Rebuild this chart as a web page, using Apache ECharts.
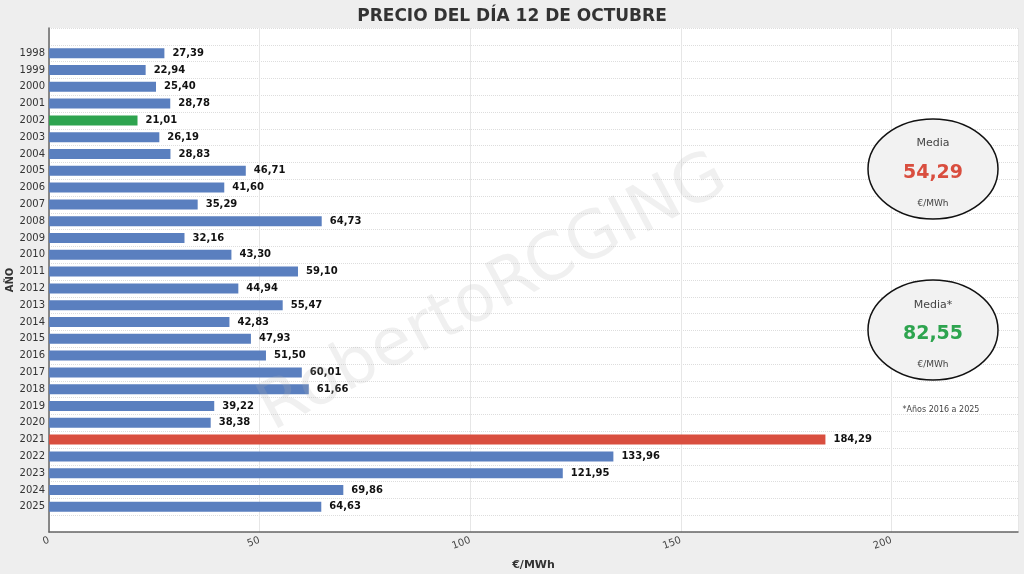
<!DOCTYPE html>
<html><head><meta charset="utf-8">
<script src="https://cdn.jsdelivr.net/npm/echarts@6/dist/echarts.min.js"></script>
<style>html,body{margin:0;padding:0;background:#eeeeee}#c{width:1024px;height:574px}</style>
</head><body><div id="c"></div>
<script>
const years = ['1998','1999','2000','2001','2002','2003','2004','2005','2006','2007','2008','2009','2010','2011','2012','2013','2014','2015','2016','2017','2018','2019','2020','2021','2022','2023','2024','2025'];
const prices = [27.39,22.94,25.40,28.78,21.01,26.19,28.83,46.71,41.60,35.29,64.73,32.16,43.30,59.10,44.94,55.47,42.83,47.93,51.50,60.01,61.66,39.22,38.38,184.29,133.96,121.95,69.86,64.63];
const minYear = '2002', maxYear = '2021';
const xTicks = [0,50,100,150,200];

const cats = [''].concat(years).concat(['']);
const vals = [null].concat(prices.map((v,i)=>({value:v,itemStyle:{color: years[i]===maxYear?'#d94e3f':(years[i]===minYear?'#2ea44f':'#5a7fbf')}}))).concat([null]);
const fmt = v => v.toFixed(2).replace('.',',');
const chart = echarts.init(document.getElementById('c'));
const ff = 'DejaVu Sans';
chart.setOption({
  backgroundColor:'#eeeeee',
  textStyle:{fontFamily:ff},
  title:{text:'PRECIO DEL DÍA 12 DE OCTUBRE',left:'center',top:3,textStyle:{fontSize:17,fontWeight:'bold',color:'#333',fontFamily:ff}},
  grid:{left:49,right:6,top:28,bottom:42,backgroundColor:'#fff',show:true,borderWidth:0,containLabel:false,outerBoundsMode:'none'},
  xAxis:{type:'value',min:0,max:230,interval:50,name:'€/MWh',nameLocation:'middle',nameGap:28,
    nameTextStyle:{fontWeight:'bold',fontSize:11,color:'#333'},
    axisLine:{show:true,lineStyle:{color:'#666',width:1.5}},axisTick:{show:false},
    axisLabel:{rotate:20,fontSize:10,color:'#444',formatter:v=>xTicks.includes(v)?String(v):''},
    splitLine:{lineStyle:{color:'#e6e6e6'}}},
  yAxis:{type:'category',data:cats,inverse:true,
    axisLine:{lineStyle:{color:'#666',width:1.5}},axisTick:{show:false},
    axisLabel:{fontSize:10,color:'#333',margin:4},
    splitLine:{show:true,lineStyle:{color:'#dddddd',type:'dotted'}}},
  series:[{type:'bar',data:vals,barWidth:10,
    label:{show:true,position:'right',distance:8,fontWeight:'bold',fontSize:10,color:'#111',formatter:p=>fmt(p.value)}}],
  graphic:[
    {type:'text',x:10,y:280,rotation:Math.PI/2,style:{text:'AÑO',font:'bold 10px "DejaVu Sans"',fill:'#333',align:'center',verticalAlign:'middle'}},
    {type:'text',x:280,y:445,rotation:Math.PI/180*28,z:10,style:{text:'RobertoRCGING',font:'66px "DejaVu Sans"',fill:'rgba(180,180,180,0.2)',verticalAlign:'bottom'}},
    {type:'ellipse',shape:{cx:933,cy:169,rx:65,ry:50},style:{fill:'#f2f2f2',stroke:'#111',lineWidth:1.5},z:20},
    {type:'text',x:933,y:143,style:{text:'Media',font:'11px "DejaVu Sans"',fill:'#444',align:'center',verticalAlign:'middle'},z:21},
    {type:'text',x:933,y:173,style:{text:'54,29',font:'bold 19px "DejaVu Sans"',fill:'#d94e3f',align:'center',verticalAlign:'middle'},z:21},
    {type:'text',x:933,y:204,style:{text:'€/MWh',font:'9px "DejaVu Sans"',fill:'#444',align:'center',verticalAlign:'middle'},z:21},
    {type:'ellipse',shape:{cx:933,cy:330,rx:65,ry:50},style:{fill:'#f2f2f2',stroke:'#111',lineWidth:1.5},z:20},
    {type:'text',x:933,y:305,style:{text:'Media*',font:'11px "DejaVu Sans"',fill:'#444',align:'center',verticalAlign:'middle'},z:21},
    {type:'text',x:933,y:334,style:{text:'82,55',font:'bold 19px "DejaVu Sans"',fill:'#2ea44f',align:'center',verticalAlign:'middle'},z:21},
    {type:'text',x:933,y:365,style:{text:'€/MWh',font:'9px "DejaVu Sans"',fill:'#444',align:'center',verticalAlign:'middle'},z:21},
    {type:'text',x:941,y:410,style:{text:'*Años 2016 a 2025',font:'8px "DejaVu Sans"',fill:'#444',align:'center',verticalAlign:'middle'},z:21}
  ]
});
</script></body></html>
